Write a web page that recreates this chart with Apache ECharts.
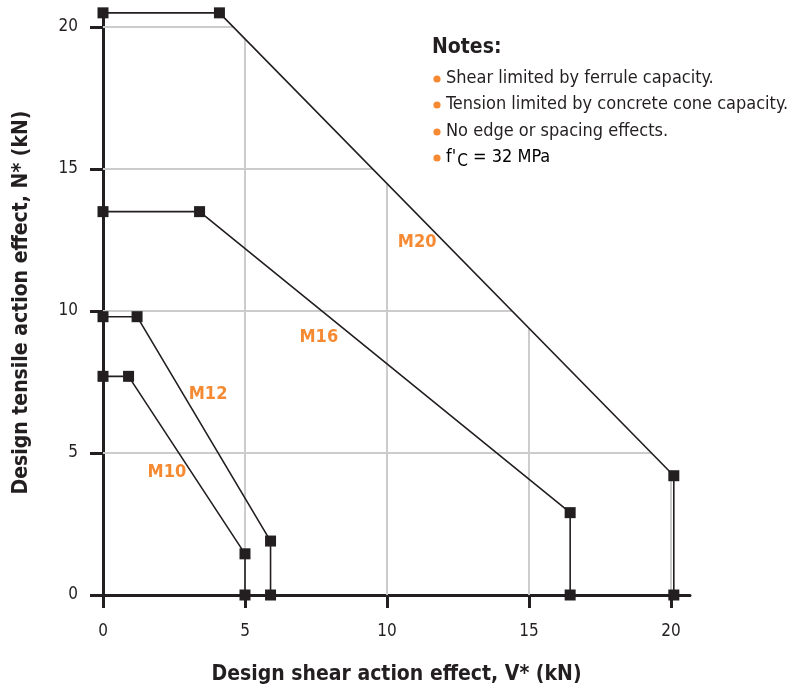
<!DOCTYPE html>
<html><head><meta charset="utf-8">
<script src="https://cdn.jsdelivr.net/npm/echarts@6/dist/echarts.min.js"></script>
<style>html,body{margin:0;padding:0;background:#fff}#c{width:800px;height:689px}</style>
</head><body><div id="c"></div>
<script>
const FONT = "'DejaVu Sans Condensed','Liberation Sans Narrow',sans-serif";
const seriesNames = ['M10','M12','M16','M20'];
const m10 = [[0,7.7],[0.9,7.7],[5.0,1.45],[5.0,0]];
const m12 = [[0,9.8],[1.2,9.8],[5.9,1.9],[5.9,0]];
const m16 = [[0,13.5],[3.4,13.5],[16.45,2.9],[16.45,0]];
const m20 = [[0,20.5],[4.1,20.5],[20.1,4.2],[20.1,0]];
const seriesData = [m10,m12,m16,m20];
const labelPos = [[2.25,4.33],[3.7,7.08],[7.6,9.08],[11.06,12.43]];
const tickValues = [0,5,10,15,20];
const gridValues = [5,10,15,20];
const notes = ['Shear limited by ferrule capacity.','Tension limited by concrete cone capacity.','No edge or spacing effects.'];

// gridlines are clipped by the outer (M20) envelope
function xAtY(poly, y){
  for(let i=0;i<poly.length-1;i++){
    const [x1,y1]=poly[i],[x2,y2]=poly[i+1];
    if((y1>=y&&y2<=y)&&y1!==y2){return x1+(y1-y)/(y1-y2)*(x2-x1);}
  }
  return poly[poly.length-1][0];
}
function yAtX(poly, x){
  for(let i=0;i<poly.length-1;i++){
    const [x1,y1]=poly[i],[x2,y2]=poly[i+1];
    if(x1<=x&&x2>=x&&x1!==x2){return y1+(x-x1)/(x2-x1)*(y2-y1);}
  }
  return 0;
}
const envelope = m20;
const gridC = '#cccccc', dark = '#231f20', orange = '#f58a32';
const gridSeries = [];
gridValues.forEach(v=>{
  gridSeries.push({type:'line', silent:true, symbol:'none', z:1, animation:false,
    lineStyle:{color:gridC,width:2}, data:[[0,v],[xAtY(envelope,v),v]]});
  gridSeries.push({type:'line', silent:true, symbol:'none', z:1, animation:false,
    lineStyle:{color:gridC,width:2}, data:[[v,0],[v,yAtX(envelope,v)]]});
});

const chart = echarts.init(document.getElementById('c'));
const axisCommon = {
  type:'value', min:0, interval:5,
  axisLine:{show:true, onZero:false, lineStyle:{color:dark,width:3}},
  axisTick:{show:true, length:13, lineStyle:{color:dark,width:3}, customValues:tickValues},
  axisLabel:{color:dark, fontSize:17, fontFamily:FONT, customValues:tickValues},
  splitLine:{show:false},
  nameLocation:'middle',
  nameTextStyle:{color:dark,fontSize:21,fontWeight:'bold',fontFamily:FONT}
};
const series = seriesData.map((d,i)=>({
  name:seriesNames[i], type:'line', data:d, symbol:'rect', symbolSize:11,
  itemStyle:{color:dark}, lineStyle:{color:dark,width:1.6}, z:3, animation:false
}));
const labelSeries = {type:'scatter', symbolSize:0, silent:true, z:4, animation:false,
  itemStyle:{opacity:1},
  data:labelPos.map((p,i)=>({value:p, name:seriesNames[i]})),
  label:{show:true, position:'inside', opacity:1, formatter:p=>p.name, color:orange, fontSize:18, fontWeight:'bold', fontFamily:FONT}};

const noteEls = [{type:'text', left:432, top:37, style:{text:'Notes:', font:"bold 21px "+FONT, fill:dark}}];
const ys=[69,95,122,148];
notes.forEach((t,i)=>{
  noteEls.push({type:'circle', shape:{cx:437, cy:ys[i]+10, r:3.6}, style:{fill:orange}});
  noteEls.push({type:'text', left:446, top:ys[i], style:{text:t, font:"18px "+FONT, fill:dark}});
});
noteEls.push({type:'circle', shape:{cx:437, cy:ys[3]+10, r:3.6}, style:{fill:orange}});
noteEls.push({type:'text', left:446, top:ys[3], style:{
  text:"{a|f'}{s|C}{a| = 32 MPa}",
  rich:{a:{font:"18px "+FONT, color:dark}, s:{font:"17px "+FONT, color:dark, padding:[10,0,0,1]}}}});
chart.setOption({
  animation:false,
  grid:{left:103, top:10, width:587, height:585, containLabel:false, outerBoundsMode:'none'},
  xAxis:Object.assign({}, axisCommon, {max:20.67, name:'Design shear action effect, V* (kN)', nameGap:69,
    axisLabel:Object.assign({}, axisCommon.axisLabel, {margin:28})}),
  yAxis:Object.assign({}, axisCommon, {max:20.6, name:'Design tensile action effect, N* (kN)', nameGap:71,
    axisLabel:Object.assign({}, axisCommon.axisLabel, {margin:25})}),
  series:gridSeries.concat(series,[labelSeries]),
  graphic:noteEls
});
</script></body></html>
